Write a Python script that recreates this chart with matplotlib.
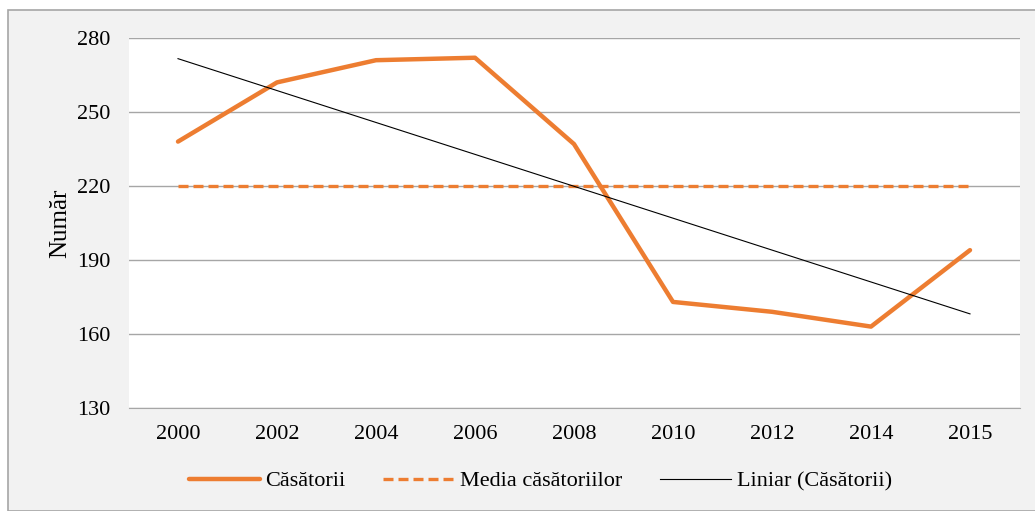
import numpy as np
import matplotlib
matplotlib.use("Agg")
import matplotlib.pyplot as plt
from matplotlib.patches import Rectangle

# data
ani = ['2000', '2002', '2004', '2006', '2008', '2010', '2012', '2014', '2015']
casatorii = [238, 262, 271, 272, 237, 173, 169, 163, 194]

plt.rcParams['font.family'] = ['Liberation Serif', 'DejaVu Serif']

x = np.arange(len(ani))
media = np.mean(casatorii)
panta, interc = np.polyfit(x, casatorii, 1)
trend = panta * x + interc

orange = '#ED7D31'

fig = plt.figure(figsize=(10.35, 5.11), dpi=100)
fig.patch.set_facecolor('white')
# chart area panel
fig.patches.append(Rectangle((8 / 1035, 0), 1.0, 1 - 10 / 511, transform=fig.transFigure,
                             facecolor='#F2F2F2', edgecolor='#A6A6A6', linewidth=1.2, zorder=0))

ax = fig.add_axes([128.5 / 1035, 1 - 408 / 511, 891 / 1035, 370 / 511])
ax.set_zorder(2)
ax.set_facecolor('white')

ax.plot(x, casatorii, color=orange, lw=3.2, solid_capstyle='round', label='Căsătorii', zorder=4)
ax.plot(x, [media] * len(x), color=orange, lw=2.4, ls=(0, (3, 1.5)), label='Media căsătoriilor', zorder=3)
ax.plot(x, trend, color='black', lw=0.8, label='Liniar (Căsătorii)', zorder=5)

ax.set_xlim(-0.5, len(x) - 0.5)
ax.set_ylim(130, 280)
ax.set_yticks(np.arange(130, 281, 30))
ax.set_xticks(x)
ax.set_xticklabels(ani)
ax.yaxis.grid(True, color='#A6A6A6', lw=1)
ax.set_axisbelow(True)
for s in ['top', 'right', 'left']:
    ax.spines[s].set_visible(False)
ax.spines['bottom'].set_color('#A6A6A6')
ax.tick_params(length=0, labelsize=16, colors='black')
ax.tick_params(axis='x', pad=12)
ax.tick_params(axis='y', pad=13)
ax.set_ylabel('Număr', fontsize=18, labelpad=4)

leg = fig.legend(loc='center', bbox_to_anchor=(0.522, 1 - 481 / 511), ncol=3, frameon=False,
                 fontsize=16, handlelength=3.2, handletextpad=0.25, columnspacing=1.7)
leg.set_zorder(3)

fig.savefig('out.png', dpi=100)
